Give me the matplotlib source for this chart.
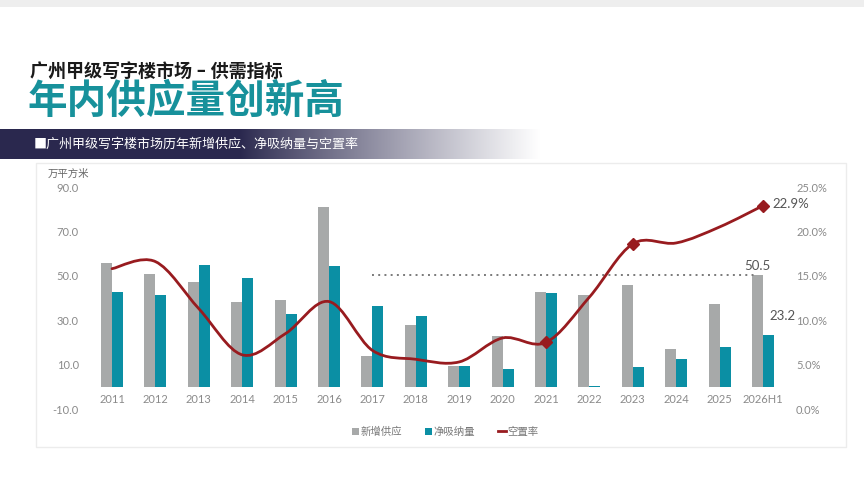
import matplotlib
matplotlib.use("Agg")
import matplotlib.pyplot as plt
from matplotlib.path import Path
from matplotlib.patches import PathPatch, Patch, Rectangle
from matplotlib.lines import Line2D
import numpy as np


plt.rcParams['font.family'] = ['Lato', 'Noto Sans CJK SC', 'DejaVu Sans']

years = ["2011", "2012", "2013", "2014", "2015", "2016", "2017", "2018",
	"2019", "2020", "2021", "2022", "2023", "2024", "2025", "2026H1"]

# 万平方米
new_supply = [55.8, 50.6, 47.1, 38.4, 39.0, 81.0, 13.7, 27.8,
	9.2, 23.0, 42.7, 41.4, 45.9, 17.0, 37.5, 50.5]
net_absorption = [42.9, 41.4, 54.9, 48.8, 32.8, 54.3, 36.6, 31.7,
	9.2, 8.0, 42.3, 0.3, 8.7, 12.5, 17.9, 23.2]

# %
vacancy = [15.8, 16.6, 11.3, 6.1, 8.5, 12.1, 6.6, 5.6,
	5.3, 8.0, 7.5, 12.6, 18.6, 18.7, 20.5, 22.9]

marker_years = ["2021", "2023", "2026H1"]
ref_level = 50.5
ref_start = "2017"

left_ticks = [-10, 10, 30, 50, 70, 90]
right_ticks = [0, 5, 10, 15, 20, 25]

gray = "#a7a9a9"
teal = "#0b8fa4"
red = "#981b1f"
tick_color = "#8a8a8a"

W, H = 864, 490


def px_box(x0, y0, x1, y1):
	# pixel box (top-left origin) -> figure fraction
	return [x0 / W, 1 - y1 / H, (x1 - x0) / W, (y1 - y0) / H]


def smooth_path(xs, ys):
	# catmull-rom style bezier like the office "smoothed line"
	pts = np.column_stack([xs, ys])
	n = len(pts)
	verts = [pts[0]]
	codes = [Path.MOVETO]
	for i in range(n - 1):
		p0 = pts[i - 1] if i > 0 else pts[i]
		p1 = pts[i]
		p2 = pts[i + 1]
		p3 = pts[i + 2] if i + 2 < n else pts[i + 1]
		c1 = p1 + (p2 - p0) / 6
		c2 = p2 - (p3 - p1) / 6
		verts += [c1, c2, p2]
		codes += [Path.CURVE4] * 3
	return Path(verts, codes)


fig = plt.figure(figsize=(W / 100, H / 100), dpi=100)
fig.patch.set_facecolor("white")

# faint top strip
fig.patches.append(Rectangle((0, 1 - 7 / H), 1, 7 / H, transform=fig.transFigure,
	facecolor="#eeeeee", edgecolor="none", zorder=-2))

# card frame
fig.patches.append(Rectangle((36 / W, 1 - 447 / H), (846 - 36) / W, (447 - 163) / H,
	transform=fig.transFigure, facecolor="white", edgecolor="#ececec", linewidth=1.0, zorder=-2))

# titles
fig.text(30 / W, 1 - 72 / H, "广州甲级写字楼市场 – 供需指标", fontsize=13,
	fontweight="heavy", color="#1a1a1a", va="center", ha="left")
fig.text(28 / W, 1 - 101 / H, "年内供应量创新高", fontsize=28.5,
	fontweight="heavy", color="#17919b", va="center", ha="left")

# gradient banner
ax_ban = fig.add_axes(px_box(0, 129, 600, 159))
ax_ban.axis("off")
grad_x = np.linspace(0, 1, 600)
c_dark = np.array([0x2a, 0x28, 0x4e]) / 255
c_white = np.ones(3)
t = np.clip((grad_x - 0.40) / 0.50, 0, 1) ** 0.9
rgb = c_dark[None, :] * (1 - t[:, None]) + c_white[None, :] * t[:, None]
ax_ban.imshow(rgb[None, :, :], aspect="auto", extent=(0, 1, 0, 1))
ax_ban.set_xlim(0, 1)
ax_ban.set_ylim(0, 1)
fig.text(34 / W, 1 - 144 / H, "■广州甲级写字楼市场历年新增供应、净吸纳量与空置率",
	fontsize=9.4, color="white", va="center", ha="left")

# main chart
ax = fig.add_axes(px_box(90, 187, 785, 409))
ax.set_facecolor("none")
x = np.arange(len(years))
bar_w = 0.255

ax.bar(x - bar_w / 2, new_supply, width=bar_w, color=gray, zorder=2)
ax.bar(x + bar_w / 2, net_absorption, width=bar_w, color=teal, zorder=2)

ref_i = years.index(ref_start)
ax.plot([x[ref_i], x[-1] - bar_w / 2], [ref_level, ref_level], linestyle=(0, (1, 2.2)),
	color="#7a7a7a", linewidth=1.4, zorder=3)

ax.set_xlim(-0.507, len(years) - 1 + 0.507)
ax.set_ylim(-10, 90)
ax.set_yticks(left_ticks)
ax.set_yticklabels([f"{v:.1f}" for v in left_ticks], fontsize=8, color=tick_color)
ax.tick_params(axis="y", length=0, pad=8)
ax.set_xticks([])
for s in ax.spines.values():
	s.set_visible(False)

for xi, lab in zip(x, years):
	ax.text(xi, -5.9, lab, ha="center", va="center", fontsize=8, color=tick_color)

ax.text(x[-1] - bar_w / 2, new_supply[-1] + 1.2, f"{new_supply[-1]:.1f}", ha="center",
	va="bottom", fontsize=9.5, color="#555555")
ax.text(x[-1] + bar_w / 2 + 0.02, net_absorption[-1] + 6, f"{net_absorption[-1]:.1f}",
	ha="left", va="bottom", fontsize=9.5, color="#555555")

ax2 = ax.twinx()
ax2.set_facecolor("none")
ax2.set_ylim(0, 25)
ax2.set_yticks(right_ticks)
ax2.set_yticklabels([f"{v:.1f}%" for v in right_ticks], fontsize=8, color=tick_color)
ax2.tick_params(axis="y", length=0, pad=8)
for s in ax2.spines.values():
	s.set_visible(False)

ax2.add_patch(PathPatch(smooth_path(x, vacancy), facecolor="none", edgecolor=red,
	linewidth=2.0, zorder=4, capstyle="round"))
mk = [years.index(y) for y in marker_years]
ax2.plot(x[mk], np.array(vacancy)[mk], linestyle="none", marker="D", markersize=6,
	color=red, zorder=5)
ax2.text(x[-1] + 0.22, vacancy[-1] + 0.2, f"{vacancy[-1]:.1f}%", ha="left", va="center",
	fontsize=9.5, color="#555555")

fig.text(48 / W, 1 - 174 / H, "万平方米", fontsize=7.5, color="#666666",
	va="center", ha="left")

handles = [
	Patch(facecolor=gray, edgecolor="none"),
	Patch(facecolor=teal, edgecolor="none"),
	Line2D([0], [0], color=red, linewidth=2),
]
fig.legend(handles, ["新增供应", "净吸纳量", "空置率"], loc="center",
	bbox_to_anchor=(445 / W, 1 - 432 / H), ncol=3, frameon=False,
	fontsize=7.5, labelcolor="#777777", handlelength=0.7, handleheight=0.7,
	handletextpad=0.15, columnspacing=2.2)

fig.savefig("out.png", dpi=100)
